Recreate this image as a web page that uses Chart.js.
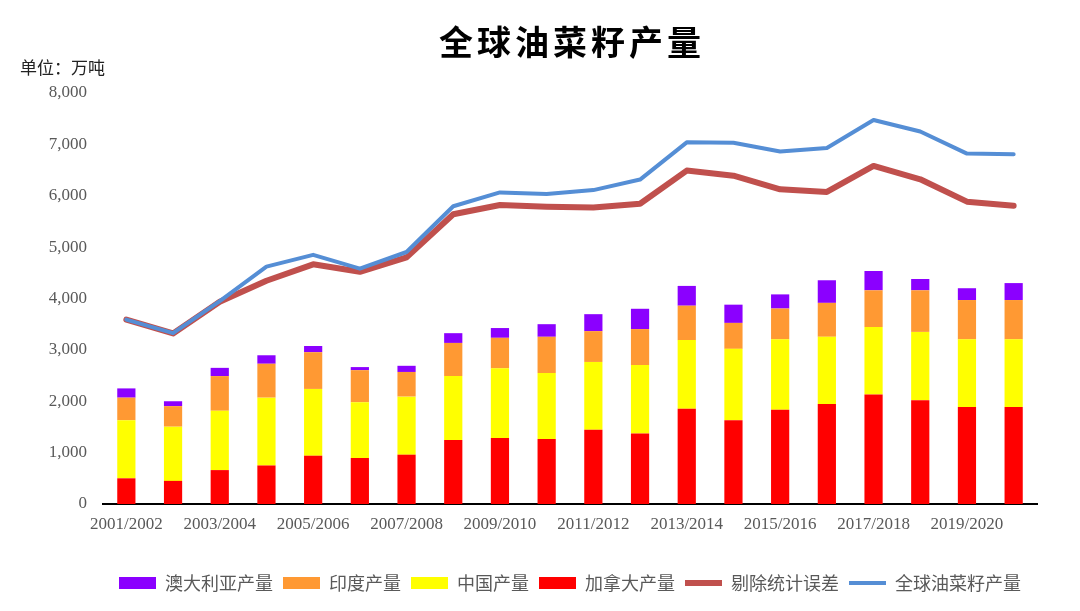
<!DOCTYPE html>
<html>
<head>
<meta charset="utf-8">
<script src="https://cdn.jsdelivr.net/npm/chart.js@4/dist/chart.umd.min.js"></script>
<style>
  html, body { margin: 0; padding: 0; background: #fff; }
  #wrap { width: 1080px; height: 611px; }
</style>
</head>
<body>
<div id="wrap"><canvas id="chart"></canvas></div>
<script>
// 数据（万吨）
const labels = ['2001/2002', '2002/2003', '2003/2004', '2004/2005', '2005/2006', '2006/2007', '2007/2008',
    '2008/2009', '2009/2010', '2010/2011', '2011/2012', '2012/2013', '2013/2014', '2014/2015', '2015/2016',
    '2016/2017', '2017/2018', '2018/2019', '2019/2020', '2020/2021'];
const canada = [500, 450, 660, 750, 940, 895, 960, 1245, 1285, 1265, 1445, 1370, 1855, 1630, 1835, 1945, 2130, 2020, 1890, 1890];
const china = [1130, 1055, 1155, 1320, 1300, 1085, 1130, 1245, 1355, 1285, 1320, 1335, 1335, 1390, 1370, 1310, 1315, 1330, 1315, 1315];
const india = [440, 400, 675, 660, 715, 625, 480, 645, 595, 705, 600, 700, 670, 505, 600, 660, 715, 810, 765, 765];
const australia = [180, 95, 160, 165, 120, 60, 120, 190, 190, 245, 330, 395, 385, 355, 275, 440, 375, 220, 230, 330];
const world = [3590, 3325, 3950, 4620, 4850, 4580, 4905, 5795, 6065, 6035, 6110, 6315, 7040, 7030, 6860, 6930, 7475, 7250, 6820, 6810];
const adjusted = [3590, 3320, 3935, 4345, 4665, 4520, 4800, 5640, 5820, 5785, 5770, 5845, 6490, 6390, 6125, 6075, 6580, 6320, 5885, 5805];

const serif = '"Liberation Serif", "Times New Roman", serif';
const cjk = '"Noto Sans CJK SC", sans-serif';

// 标题和单位文字
const headerText = {
    id: 'headerText',
    afterDraw(chart) {
        const ctx = chart.ctx;
        const area = chart.chartArea;
        ctx.save();
        ctx.fillStyle = '#000';
        ctx.textBaseline = 'middle';
        ctx.textAlign = 'center';
        ctx.font = 'bold 34px ' + cjk;
        ctx.letterSpacing = '4px';
        ctx.fillText('全球油菜籽产量', (area.left + area.right) / 2 + 2, 42);
        ctx.letterSpacing = '0px';
        ctx.textAlign = 'left';
        ctx.font = '17px ' + cjk;
        ctx.fillStyle = '#222';
        ctx.fillText('单位：万吨', 20, 68);
        ctx.restore();
    }
};

function barSet(label, data, color) {
    return {
        type: 'bar',
        label: label,
        data: data,
        backgroundColor: color,
        borderWidth: 0,
        stack: 'bars',
        pointStyle: 'rect',
        barPercentage: 0.39,
        categoryPercentage: 1
    };
}

function lineSet(label, data, color, width, stack) {
    return {
        type: 'line',
        label: label,
        data: data,
        borderColor: color,
        backgroundColor: color,
        borderWidth: width,
        borderCapStyle: 'round',
        borderJoinStyle: 'round',
        pointRadius: 0,
        pointStyle: 'line',
        tension: 0,
        stack: stack
    };
}

new Chart(document.getElementById('chart'), {
    data: {
        labels: labels,
        datasets: [
            lineSet('全球油菜籽产量', world, '#558ED5', 4, 'l1'),
            lineSet('剔除统计误差', adjusted, '#C0504D', 6, 'l2'),
            barSet('加拿大产量', canada, '#FF0000'),
            barSet('中国产量', china, '#FFFF00'),
            barSet('印度产量', india, '#FF9933'),
            barSet('澳大利亚产量', australia, '#8B00FF')
        ]
    },
    options: {
        responsive: true,
        maintainAspectRatio: false,
        animation: false,
        layout: {
            padding: { top: 93, right: 43, bottom: 9, left: 0 }
        },
        scales: {
            x: {
                stacked: true,
                grid: { display: false, drawTicks: false },
                border: { display: true, color: '#000', width: 2 },
                afterFit: function (scale) { scale.height = 60; },
                ticks: {
                    autoSkip: false,
                    maxRotation: 0,
                    padding: 10,
                    color: '#595959',
                    font: { family: serif, size: 17 },
                    callback: function (value, index) {
                        return index % 2 === 0 ? this.getLabelForValue(value) : '';
                    }
                }
            },
            y: {
                stacked: true,
                min: 0,
                max: 8000,
                grid: { display: false, drawTicks: false },
                border: { display: false },
                afterFit: function (scale) { scale.width = 103; },
                ticks: {
                    stepSize: 1000,
                    padding: 16,
                    color: '#595959',
                    font: { family: serif, size: 17 },
                    callback: function (value) { return value.toLocaleString('en-US'); }
                }
            }
        },
        plugins: {
            legend: {
                position: 'bottom',
                fullSize: false,
                reverse: true,
                labels: {
                    usePointStyle: true,
                    pointStyleWidth: 37,
                    boxHeight: 12,
                    padding: 10,
                    color: '#595959',
                    font: { family: cjk, size: 18 }
                }
            },
            tooltip: { enabled: false }
        }
    },
    plugins: [headerText]
});
</script>
</body>
</html>
